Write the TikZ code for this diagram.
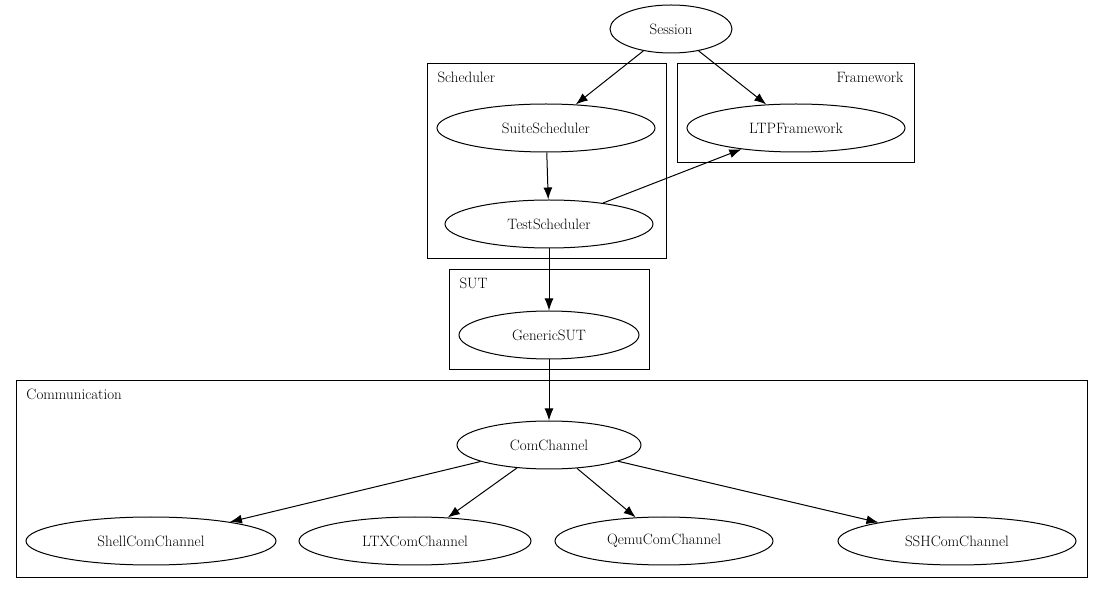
\documentclass[tikz,border=0pt]{standalone}
\usepackage{fontspec}
\usetikzlibrary{shapes.geometric,arrows.meta}
\begin{document}
\begin{tikzpicture}[x=1pt,y=-1pt,line width=1pt,
  nd/.style={draw,ellipse,minimum height=48pt,inner sep=0pt,font=\fontsize{15}{17}\selectfont},
  cl/.style={draw},
  cll/.style={font=\fontsize{15}{17}\selectfont,inner sep=0pt},
  ar/.style={-{Latex[length=12pt,width=9pt]}}]
\useasboundingbox (0,0) rectangle (1104,593);
\draw[cl] (427,64) rectangle (666,259);
\draw[cl] (677,64) rectangle (914,163);
\draw[cl] (449,270) rectangle (649,370);
\draw[cl] (16,381) rectangle (1087,577);
\node[cll,anchor=base west] (l1) at (437,83) {Scheduler};
\node[cll,anchor=base east] (l2) at (904,83) {Framework};
\node[cll,anchor=base west] (l3) at (459,289) {SUT};
\node[cll,anchor=base west] (l4) at (26,400) {Communication};
\node[nd,minimum width=122pt] (s) at (671,29) {Session};
\node[nd,minimum width=218pt] (ss) at (546,128) {SuiteScheduler};
\node[nd,minimum width=218pt] (ltp) at (796,128) {LTPFramework};
\node[nd,minimum width=208pt] (ts) at (549,224) {TestScheduler};
\node[nd,minimum width=180pt] (g) at (549,335) {GenericSUT};
\node[nd,minimum width=184pt] (c) at (549,445) {ComChannel};
\node[nd,minimum width=250pt] (c1) at (151,541) {ShellComChannel};
\node[nd,minimum width=232pt] (c2) at (415,541) {LTXComChannel};
\node[nd,minimum width=218pt] (c3) at (664,541) {QemuComChannel};
\node[nd,minimum width=238pt] (c4) at (957,541) {SSHComChannel};
\draw[ar] (s) -- (ss);
\draw[ar] (s) -- (ltp);
\draw[ar] (ss) -- (ts);
\draw[ar] (ts) -- (ltp);
\draw[ar] (ts) -- (g);
\draw[ar] (g) -- (c);
\draw[ar] (c) -- (c1);
\draw[ar] (c) -- (c2);
\draw[ar] (c) -- (c3);
\draw[ar] (c) -- (c4);
\end{tikzpicture}
\end{document}
